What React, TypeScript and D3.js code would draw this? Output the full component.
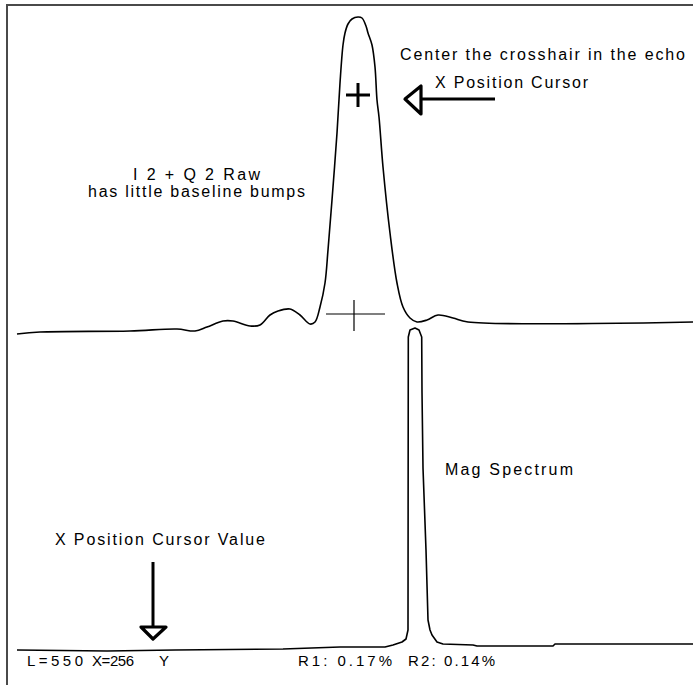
import React from "react";
import * as d3 from "d3";

// Echo trace (I² + Q² raw): sample position, amplitude
const echoX = [9, 32, 122, 169, 187, 199, 215, 225, 242, 252, 262, 270, 282, 292, 302, 307, 312, 317, 320, 324, 329, 332, 335, 337, 340, 344, 350, 354, 358, 360, 364, 367, 369, 371, 375, 382, 389, 395, 402, 409, 419, 430, 445, 460, 685];
const echoY = [0, 2, 3, 5, 3, 7, 13, 13, 8, 9, 19, 23, 25, 19, 10, 12, 27, 51, 84, 134, 201, 251, 289, 301, 310, 315, 317, 316, 308, 301, 289, 267, 234, 217, 167, 101, 51, 27, 16, 12, 14, 19, 16, 12, 12];

// Magnitude spectrum
const specX = [9, 99, 167, 275, 332, 377, 385, 394, 398, 400, 400.3, 402, 407, 411, 413.7, 414, 415, 418, 420, 422, 424, 429, 435, 465, 469, 545, 547, 685];
const specY = [0, -1, 0, 1, 3, 3, 5, 8, 11, 20, 313, 320, 322, 320, 313, 258, 182, 100, 30, 20, 15, 8, 6, 5, 4, 4, 6, 6];

const statusLabels = ["L=550", "X=256", "Y", "R1: 0.17%", "R2: 0.14%"];
const notes = {
  center: "Center the crosshair in the echo",
  cursor: "X Position Cursor",
  raw1: "I 2 + Q 2 Raw",
  raw2: "has little baseline bumps",
  cursorValue: "X Position Cursor Value",
  mag: "Mag Spectrum",
};

const W = 693;
const H = 685;

export default function App() {
  const x = d3.scaleLinear().domain([0, 685]).range([8, 693]);
  const yTop = d3.scaleLinear().domain([0, 317]).range([334, 17]);
  const yBot = d3.scaleLinear().domain([0, 322]).range([650, 328]);

  const echoLine = d3
    .line<number>()
    .x((_, i) => x(echoX[i]))
    .y((d) => yTop(d))
    .curve(d3.curveCatmullRom.alpha(0.5));
  const specLine = d3
    .line<number>()
    .x((_, i) => x(specX[i]))
    .y((d) => yBot(d))
    .curve(d3.curveLinear);

  const font = "'Liberation Sans', Arial, Helvetica, sans-serif";
  const t = (s: string, px: number, py: number, len: number, size = 16) => (
    <text
      x={px}
      y={py}
      fontSize={size}
      fontFamily={font}
      fill="#000"
      textLength={len}
      lengthAdjust="spacing"
    >
      {s}
    </text>
  );

  const statusPos = [
    [27, 56],
    [92, 42],
    [159, 10],
    [298, 94],
    [408, 87],
  ];

  return (
    <svg
      width={W}
      height={H}
      style={{ position: "absolute", left: 0, top: 0, background: "#fff" }}
    >
      <rect x={0} y={0} width={W} height={H} fill="#fff" />
      {/* frame */}
      <line x1={6} y1={5} x2={W} y2={5} stroke="#4a4a4a" strokeWidth={2} />
      <line x1={7} y1={4} x2={7} y2={H} stroke="#4a4a4a" strokeWidth={2} />

      {/* traces */}
      <path d={echoLine(echoY) || ""} fill="none" stroke="#000" strokeWidth={1.6} strokeLinejoin="round" />
      <path d={specLine(specY) || ""} fill="none" stroke="#000" strokeWidth={1.6} strokeLinejoin="round" />

      {/* thin crosshair */}
      <line x1={326} y1={314} x2={385} y2={314} stroke="#000" strokeWidth={1.2} />
      <line x1={354} y1={300} x2={354} y2={331} stroke="#000" strokeWidth={1.2} />

      {/* bold plus */}
      <line x1={346} y1={95} x2={370} y2={95} stroke="#000" strokeWidth={3} />
      <line x1={358} y1={83} x2={358} y2={107} stroke="#000" strokeWidth={3} />

      {/* left arrow */}
      <line x1={421} y1={99} x2={495} y2={99} stroke="#000" strokeWidth={3} />
      <path d="M405,99 L421,86 L421,114 Z" fill="#fff" stroke="#000" strokeWidth={3.2} strokeLinejoin="round" />

      {/* down arrow */}
      <line x1={153} y1={562} x2={153} y2={627} stroke="#000" strokeWidth={3} />
      <path d="M141,627 L166,627 L153,639 Z" fill="#fff" stroke="#000" strokeWidth={3.2} strokeLinejoin="round" />

      {/* annotations */}
      {t(notes.center, 400, 60, 285)}
      {t(notes.cursor, 435, 88, 153)}
      {t(notes.raw1, 133, 180, 127)}
      {t(notes.raw2, 88, 197, 217)}
      {t(notes.cursorValue, 55, 545, 210)}
      {t(notes.mag, 445, 475, 128)}

      {statusLabels.map((s, i) => (
        <React.Fragment key={s}>{t(s, statusPos[i][0], 666, statusPos[i][1], 15)}</React.Fragment>
      ))}
    </svg>
  );
}
